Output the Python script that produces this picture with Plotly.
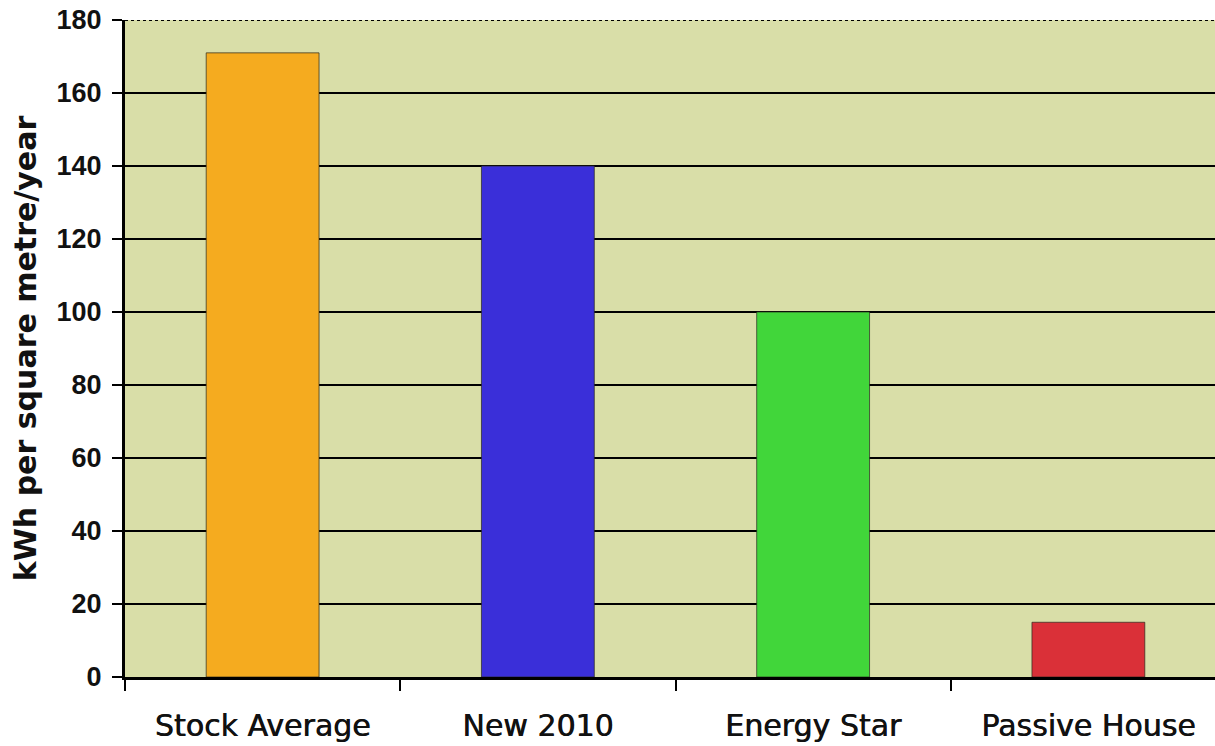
import plotly.graph_objects as go

categories = ["Stock Average", "New 2010", "Energy Star", "Passive House"]
values = [171, 140, 100, 15]
bar_colors = ["#f5ab1f", "#3a2fd9", "#41d63a", "#da3038"]
y_ticks = [0, 20, 40, 60, 80, 100, 120, 140, 160, 180]
grid_ticks = [20, 40, 60, 80, 100, 120, 140, 160]

fig = go.Figure()
fig.add_trace(go.Bar(
    x=categories, y=values, width=0.41,
    marker=dict(color=bar_colors, line=dict(color="rgba(40,40,30,0.7)", width=1)),
    showlegend=False,
))
# invisible trace on overlay axis to carry gridlines
fig.add_trace(go.Scatter(x=categories, y=values, yaxis="y2", mode="markers",
                         marker=dict(opacity=0), showlegend=False, hoverinfo="skip"))

fig.update_layout(
    width=1215, height=746,
    margin=dict(l=125, r=0, t=20, b=69),
    paper_bgcolor="white",
    plot_bgcolor="#d9dea8",
    xaxis=dict(
        range=[-0.5, 3.46], showline=True, linecolor="black", linewidth=3,
        ticks="outside", tickson="boundaries", ticklen=11, tickwidth=2, tickcolor="black",
        tickfont=dict(family="DejaVu Sans", size=30, color="#111",
                      shadow="0.6px 0px 0px #111"),
        showgrid=False, ticklabelstandoff=20,
    ),
    yaxis=dict(
        range=[0, 180], tickvals=y_ticks, showgrid=False,
        showline=True, linecolor="black", linewidth=3,
        ticks="outside", ticklen=10, tickwidth=2, tickcolor="black",
        tickfont=dict(family="Liberation Sans", size=27, color="#111", weight="bold"),
        ticklabelstandoff=5,
        title=dict(text="kWh per square metre/year", standoff=12,
                   font=dict(family="DejaVu Sans", size=30, color="#111", weight="bold")),
        zeroline=False,
    ),
    yaxis2=dict(
        overlaying="y", matches="y", range=[0, 180], tickvals=grid_ticks,
        showticklabels=False, showgrid=True, gridcolor="black", gridwidth=2,
        zeroline=False, showline=False, ticks="",
    ),
    shapes=[dict(type="line", xref="paper", yref="y", x0=0, x1=1, y0=180, y1=180,
                 line=dict(color="black", width=2, dash="dot"), layer="below")],
)

fig.write_html("out.html")
